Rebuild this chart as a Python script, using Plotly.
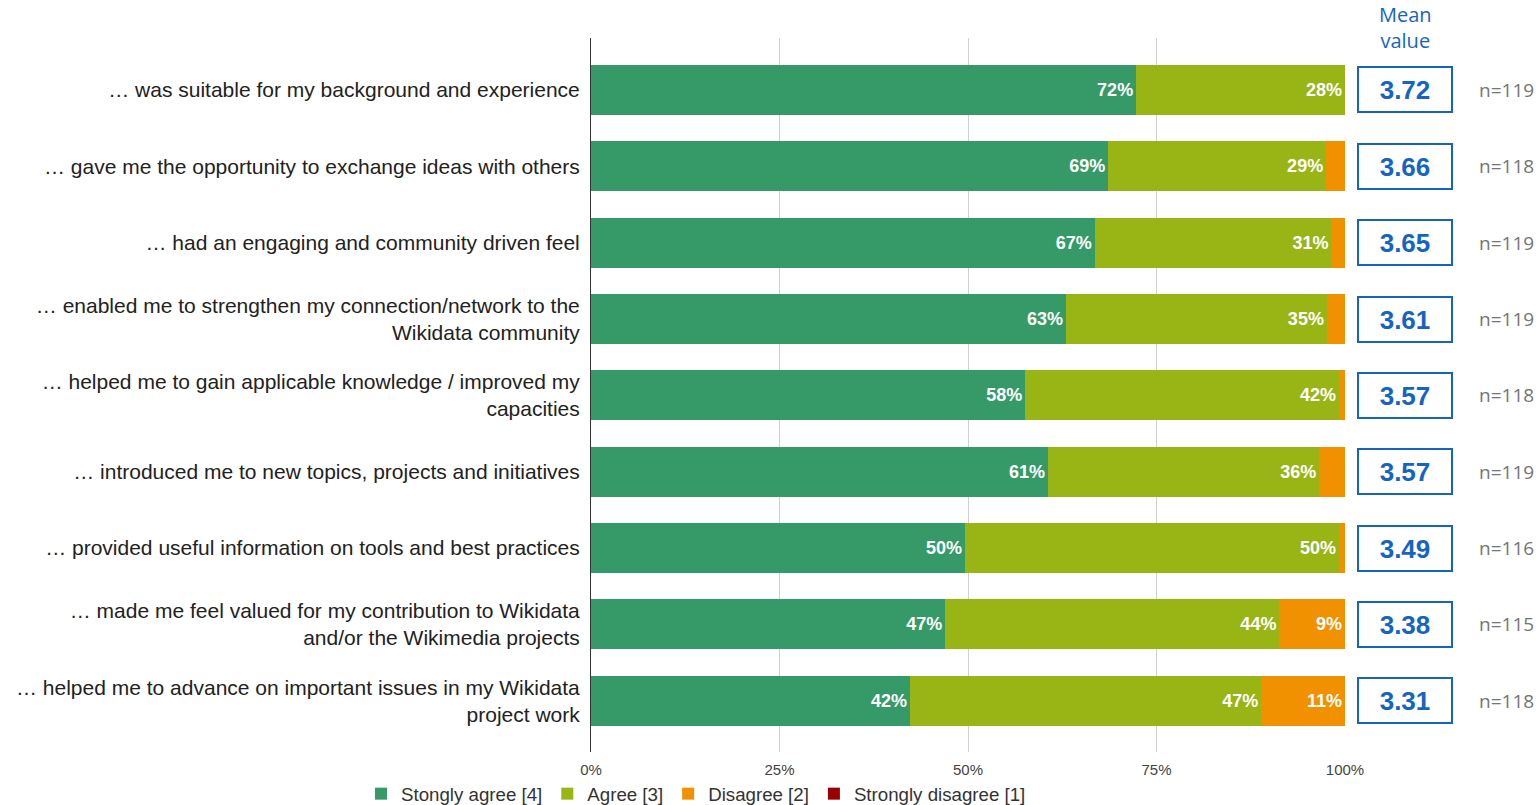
import plotly.graph_objects as go

categories = [
    "… was suitable for my background and experience",
    "… gave me the opportunity to exchange ideas with others",
    "… had an engaging and community driven feel",
    "… enabled me to strengthen my connection/network to the<br>Wikidata community",
    "… helped me to gain applicable knowledge / improved my<br>capacities",
    "… introduced me to new topics, projects and initiatives",
    "… provided useful information on tools and best practices",
    "… made me feel valued for my contribution to Wikidata<br>and/or the Wikimedia projects",
    "… helped me to advance on important issues in my Wikidata<br>project work",
]
strongly_agree = [72.3, 68.6, 66.8, 63.0, 57.6, 60.6, 49.6, 47.0, 42.3]
agree = [27.7, 28.9, 31.4, 34.6, 41.6, 36.0, 49.6, 44.3, 46.6]
disagree = [0.0, 2.5, 1.8, 2.4, 0.8, 3.4, 0.8, 8.7, 11.1]
strongly_disagree = [0, 0, 0, 0, 0, 0, 0, 0, 0]
mean_values = ["3.72", "3.66", "3.65", "3.61", "3.57", "3.57", "3.49", "3.38", "3.31"]
n_values = ["n=119", "n=118", "n=119", "n=119", "n=118", "n=119", "n=116", "n=115", "n=118"]
x_ticks = [0, 25, 50, 75, 100]
x_tick_labels = ["0%", "25%", "50%", "75%", "100%"]

series = [
    ("Stongly agree [4]", strongly_agree, "#359a68"),
    ("Agree [3]", agree, "#98b515"),
    ("Disagree [2]", disagree, "#f29100"),
    ("Strongly disagree [1]", strongly_disagree, "#990000"),
]

W, H = 1540, 805
X0, X1, Y0, Y1 = 591, 1345, 38, 752  # target plot area in window pixels
L, T = X0, Y0
R = W - X1
B = H - Y1
pw, ph = X1 - X0, Y1 - Y0

fig = go.Figure()
for name, vals, color in series:
    fig.add_trace(go.Bar(
        y=categories, x=vals, name=name, orientation="h",
        marker=dict(color=color, line=dict(width=0)),
        text=[f"{round(v)}%" if v >= 5 else "" for v in vals],
        textposition="inside", insidetextanchor="end",
        textfont=dict(family="Arial", size=18, color="white", weight="bold"),
        hoverinfo="skip",
    ))

for i, (m, n) in enumerate(zip(mean_values, n_values)):
    fig.add_annotation(
        x=(1405 - X0) / pw, xref="paper", y=categories[i], yref="y",
        text=f"<b>{m}</b>", showarrow=False, xanchor="center", yanchor="middle",
        font=dict(family="Arial", size=26, color="#1565c0"),
        width=92, height=43, bordercolor="#1565c0", borderwidth=2, borderpad=0,
        bgcolor="white",
    )
    fig.add_annotation(
        x=(1477 - X0) / pw, xref="paper", y=categories[i], yref="y",
        text=n, showarrow=False, xanchor="left", yanchor="middle",
        font=dict(family="Open Sans", size=19, color="#757575"),
    )

fig.add_annotation(
    x=(1405 - X0) / pw, xref="paper", y=(Y1 - 27) / ph, yref="paper",
    text="Mean<br>value", showarrow=False, xanchor="center", yanchor="middle",
    font=dict(family="Open Sans", size=20, color="#1565c0"),
)

fig.update_layout(
    barmode="stack",
    bargap=0.345,
    width=W, height=H,
    margin=dict(l=L, r=R, t=T, b=B, autoexpand=False),
    paper_bgcolor="white", plot_bgcolor="white",
    showlegend=True,
    legend=dict(
        orientation="h", x=(361 - X0) / pw, xanchor="left",
        y=(Y1 - 794) / ph, yanchor="middle",
        font=dict(family="Arial", size=18.7, color="#333333"),
        traceorder="normal",
    ),
    xaxis=dict(
        range=[0, 100], tickvals=x_ticks, ticktext=x_tick_labels,
        showgrid=True, gridcolor="#d0d0d0", gridwidth=1,
        zeroline=False, showline=False,
        tickfont=dict(family="Arial", size=15, color="#444444"),
        ticklabelstandoff=7,
        fixedrange=True,
    ),
    yaxis=dict(
        categoryorder="array", categoryarray=categories,
        range=[8.67, -0.68],
        showline=True, linecolor="#333333", linewidth=1,
        tickfont=dict(family="Arial", size=21, color="#222222"),
        ticklabelstandoff=6, showgrid=False,
    ),
)

fig.write_html(
    "out.html",
    config={"displayModeBar": False},
    post_script="document.body.style.margin='0';document.body.style.overflow='hidden';",
)
